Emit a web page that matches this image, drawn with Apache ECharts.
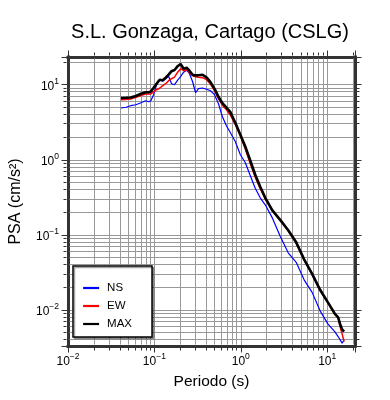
<!DOCTYPE html>
<html>
<head>
<meta charset="utf-8">
<script src="https://cdn.jsdelivr.net/npm/echarts@6/dist/echarts.min.js"></script>
<style>
  html, body { margin: 0; padding: 0; background: #fff; }
  #chart { width: 390px; height: 400px; }
</style>
</head>
<body>
<div id="chart"></div>
<script>
// periodo (s)
const periods = [0.041, 0.047, 0.053, 0.061, 0.070, 0.079, 0.086, 0.091, 0.098, 0.106,
  0.115, 0.125, 0.135, 0.146, 0.158, 0.171, 0.186, 0.201, 0.218, 0.236,
  0.255, 0.277, 0.300, 0.324, 0.361, 0.401, 0.446, 0.496, 0.552, 0.613,
  0.682, 0.759, 0.866, 0.989, 1.13, 1.29, 1.47, 1.68, 1.92, 2.32,
  2.86, 3.54, 4.38, 5.41, 6.70, 8.28, 10.2, 12.3, 13.4, 14.1, 14.9, 15.7]
// PSA (cm/s2)
const ns = [4.89, 5.01, 5.25, 5.41, 5.75, 6.12, 5.93, 6.12, 7.36, 10.0,
  11.66, 11.14, 12.02, 12.98, 10.31, 10.0, 11.48, 12.79, 14.68, 15.61,
  14.02, 10.96, 7.82, 8.85, 9.04, 8.71, 8.32, 7.36, 5.58, 3.74,
  2.84, 2.29, 1.738, 1.166, 0.912, 0.612, 0.417, 0.311, 0.251, 0.168,
  0.0955, 0.0575, 0.0430, 0.0251, 0.0171, 0.00970, 0.00651, 0.00509, 0.00441, 0.00419, 0.00360, 0.00398]
const ew = [6.31, 6.37, 6.45, 6.81, 7.20, 7.52, 7.52, 7.52, 8.07, 8.58,
  8.98, 9.70, 10.31, 11.31, 12.02, 12.59, 14.68, 16.35, 15.37, 15.85,
  14.45, 13.18, 12.79, 12.59, 12.40, 11.66, 10.22, 8.32, 6.51, 5.33,
  4.64, 3.92, 2.93, 2.089, 1.380, 0.884, 0.584, 0.411, 0.302, 0.209,
  0.156, 0.113, 0.0782, 0.0464, 0.0297, 0.0182, 0.0124, 0.00871, 0.00782, 0.00593, 0.00479, 0.00378]
const maxPsa = [6.65, 6.71, 6.77, 7.07, 7.59, 7.94, 7.94, 8.14, 9.12, 10.31,
  11.66, 11.48, 12.40, 13.59, 15.14, 15.70, 17.65, 18.88, 16.35, 16.85,
  15.37, 13.59, 13.30, 13.38, 13.59, 12.51, 10.80, 8.85, 6.92, 5.67,
  4.94, 4.30, 3.09, 2.154, 1.491, 0.970, 0.631, 0.437, 0.311, 0.212,
  0.158, 0.115, 0.0794, 0.0471, 0.0302, 0.0185, 0.0126, 0.00885, 0.00794, 0.00651, 0.00550, 0.00514]

const seriesNames = ['NS', 'EW', 'MAX']
const seriesColors = ['#0000ff', '#ff0000', '#000000']
const xRange = [0.01, 21]
const yRange = [0.0033, 23.4]
const decades = [-3, -2, -1, 0, 1]

const font = 'Liberation Sans'
const frameColor = '#333'
const gridColor = '#999'

function powLabel(v) {
  const l = Math.log10(v)
  const e = Math.round(l)
  if (Math.abs(l - e) > 1e-6) return ''
  return '{b|10}{s|' + (e < 0 ? '\u2212' + (-e) : e) + '}'
}

function minorValues(range) {
  const out = []
  decades.forEach(e => {
    for (let k = 2; k <= 9; k++) {
      const v = +(k * Math.pow(10, e)).toPrecision(3)
      if (v > range[0] && v < range[1]) out.push(v)
    }
  })
  return out
}

const labelRich = {
  b: { fontFamily: font, fontSize: 12, color: '#000', verticalAlign: 'bottom', lineHeight: 16 },
  s: { fontFamily: font, fontSize: 8.5, color: '#000', verticalAlign: 'top', lineHeight: 10 }
}

function crisp(v) {
  return Math.round(v - 0.5) + 0.5
}

// minor grid lines + small ticks outside the frame
function renderMinorX(params, api) {
  const cs = params.coordSys
  const x = crisp(api.coord([api.value(0), api.value(1)])[0])
  const top = cs.y
  const bot = cs.y + cs.height
  return {
    type: 'group',
    children: [
      { type: 'line', shape: { x1: x, y1: top + 1.5, x2: x, y2: bot - 1.5 }, style: { stroke: gridColor, lineWidth: 1 } },
      { type: 'line', shape: { x1: x, y1: top - 1.5, x2: x, y2: top - 4.5 }, style: { stroke: frameColor, lineWidth: 1 } },
      { type: 'line', shape: { x1: x, y1: bot + 1.5, x2: x, y2: bot + 4.5 }, style: { stroke: frameColor, lineWidth: 1 } }
    ]
  }
}

function renderMinorY(params, api) {
  const cs = params.coordSys
  const y = crisp(api.coord([api.value(0), api.value(1)])[1])
  const left = cs.x
  const right = cs.x + cs.width
  return {
    type: 'group',
    children: [
      { type: 'line', shape: { x1: left + 1.5, y1: y, x2: right - 1.5, y2: y }, style: { stroke: gridColor, lineWidth: 1 } },
      { type: 'line', shape: { x1: left - 1.5, y1: y, x2: left - 4.5, y2: y }, style: { stroke: frameColor, lineWidth: 1 } },
      { type: 'line', shape: { x1: right + 1.5, y1: y, x2: right + 4.5, y2: y }, style: { stroke: frameColor, lineWidth: 1 } }
    ]
  }
}

function logAxis(range, position, main) {
  return {
    type: 'log',
    logBase: 10,
    position: position,
    min: range[0],
    max: range[1],
    axisLine: { show: true, lineStyle: { color: frameColor, width: 3, cap: 'square' } },
    axisTick: { show: true, inside: false, length: 6.5, lineStyle: { color: frameColor, width: 1 } },
    splitLine: { show: main, lineStyle: { color: gridColor, width: 1 } },
    axisLabel: main
      ? { show: true, formatter: powLabel, rich: labelRich, margin: position === 'left' ? 9 : 6 }
      : { show: false }
  }
}

const chart = echarts.init(document.getElementById('chart'))

const xMain = logAxis(xRange, 'bottom', true)
xMain.name = 'Periodo (s)'
xMain.nameLocation = 'middle'
xMain.nameGap = 28
xMain.nameTextStyle = { fontFamily: font, fontSize: 15.5, color: '#000' }

const yMain = logAxis(yRange, 'left', true)
yMain.name = 'PSA (cm/s²)'
yMain.nameLocation = 'middle'
yMain.nameGap = 44
yMain.nameTextStyle = { fontFamily: font, fontSize: 16, color: '#000' }

const lineSeries = [ns, ew, maxPsa].map((vals, i) => ({
  name: seriesNames[i],
  type: 'line',
  symbol: 'none',
  z: 3,
  lineStyle: { color: seriesColors[i], width: [1.2, 1.5, 2.6][i] },
  itemStyle: { color: seriesColors[i] },
  data: periods.map((t, j) => [t, vals[j]])
}))

chart.setOption({
  animation: false,
  backgroundColor: '#fff',
  title: {
    text: 'S.L. Gonzaga, Cartago (CSLG)',
    left: 210,
    top: 22,
    textAlign: 'center',
    padding: 0,
    textStyle: { fontFamily: font, fontSize: 20, fontWeight: 'normal', color: '#000' }
  },
  grid: { left: 67, right: 35, top: 57, bottom: 54 },
  xAxis: [xMain, logAxis(xRange, 'top', false)],
  yAxis: [yMain, logAxis(yRange, 'right', false)],
  legend: {
    data: seriesNames,
    orient: 'vertical',
    left: 73,
    top: 266,
    padding: [16, 20, 7, 9],
    itemWidth: 16,
    itemHeight: 12,
    itemGap: 6,
    selectedMode: false,
    backgroundColor: '#fff',
    borderColor: '#000',
    borderWidth: 1.5,
    shadowColor: 'rgba(0,0,0,0.35)',
    shadowOffsetX: 1.5,
    shadowOffsetY: 1.5,
    itemStyle: { opacity: 0 },
    lineStyle: { width: 2.2 },
    textStyle: { fontFamily: font, fontSize: 11.5, color: '#000', padding: [0, 0, 0, 3] }
  },
  series: [
    {
      type: 'custom',
      silent: true,
      z: 1,
      clip: false,
      renderItem: renderMinorX,
      data: minorValues(xRange).map(v => [v, yRange[0]])
    },
    {
      type: 'custom',
      silent: true,
      z: 1,
      clip: false,
      renderItem: renderMinorY,
      data: minorValues(yRange).map(v => [xRange[0], v])
    }
  ].concat(lineSeries)
})
</script>
</body>
</html>
